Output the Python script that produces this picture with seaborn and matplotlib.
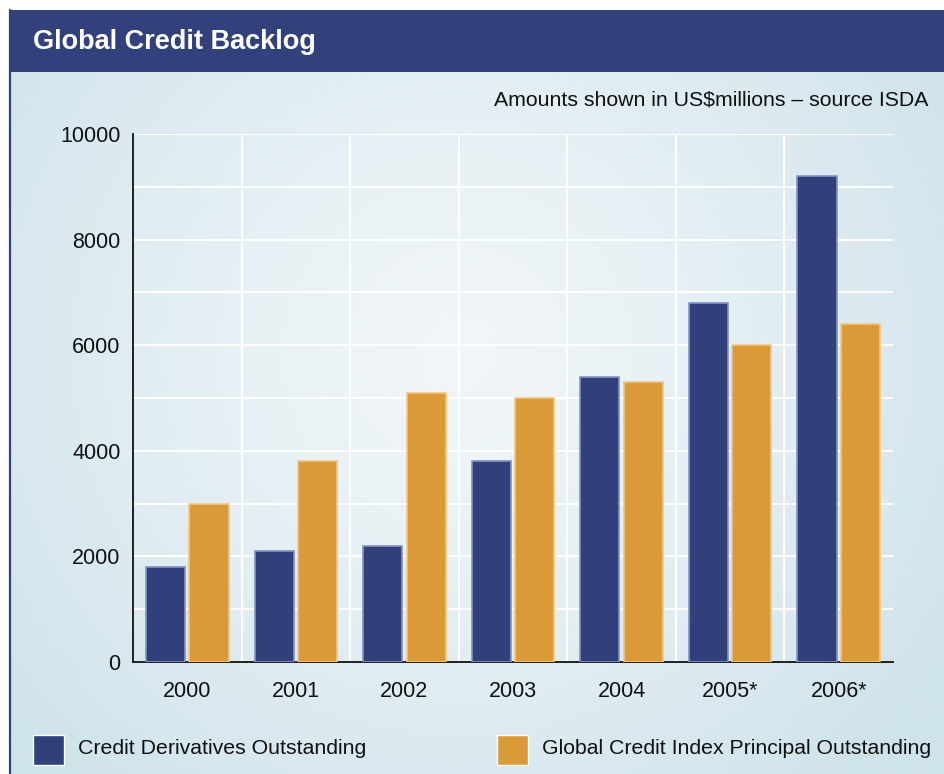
import numpy as np
import pandas as pd
import matplotlib
matplotlib.use("Agg")
import matplotlib.pyplot as plt
from matplotlib.patches import Rectangle
import seaborn as sns

years = ["2000", "2001", "2002", "2003", "2004", "2005*", "2006*"]
series_names = ["Credit Derivatives Outstanding", "Global Credit Index Principal Outstanding"]
credit_derivatives = [1800, 2100, 2200, 3800, 5400, 6800, 9200]
credit_index = [3000, 3800, 5100, 5000, 5300, 6000, 6400]
colors = ["#31407B", "#DA9A37"]
edge_colors = ["#8592C4", "#F2C685"]

df = pd.DataFrame({
    "year": years * 2,
    "value": credit_derivatives + credit_index,
    "series": [series_names[0]] * len(years) + [series_names[1]] * len(years),
})

sns.set_theme(style="white")
plt.rcParams["font.family"] = ["Liberation Sans", "DejaVu Sans"]

W, H = 944, 774
fig = plt.figure(figsize=(W / 100, H / 100), dpi=100, facecolor="white")

# background gradient panel
bg = fig.add_axes([9 / W, 0, 1 - 9 / W, (H - 10) / H])
bg.set_axis_off()
nx, ny = 400, 330
xx, yy = np.meshgrid(np.linspace(0, 1, nx), np.linspace(0, 1, ny))
r = np.sqrt(((xx - 0.48) / 0.62) ** 2 + ((yy - 0.45) / 0.75) ** 2)
t = np.clip(r, 0, 1) ** 1.3
c_center = np.array([0xF1, 0xF6, 0xF8]) / 255
c_edge = np.array([0xCF, 0xE3, 0xEB]) / 255
img = c_center[None, None, :] * (1 - t[..., None]) + c_edge[None, None, :] * t[..., None]
bg.imshow(img, aspect="auto", extent=[0, 1, 0, 1], origin="upper")
bg.set_xlim(0, 1)
bg.set_ylim(0, 1)

# left border line
fig.add_artist(plt.Line2D([9.5 / W, 9.5 / W], [0, (H - 10) / H], color="#31407B", lw=1.6,
                          transform=fig.transFigure))
# title bar
fig.add_artist(Rectangle((9 / W, (H - 72) / H), 1 - 9 / W, 62 / H, transform=fig.transFigure,
                         facecolor="#32407B", edgecolor="none"))
fig.text(33 / W, (H - 42) / H, "Global Credit Backlog", color="white", fontsize=19.5,
         fontweight="heavy", va="center", ha="left")
fig.text(928 / W, (H - 100) / H, "Amounts shown in US$millions \u2013 source ISDA",
         color="#111111", fontsize=15.3, va="center", ha="right")

# main axes
ax = fig.add_axes([133 / W, 112 / H, 760 / W, 528 / H])
ax.patch.set_alpha(0)
sns.barplot(data=df, x="year", y="value", hue="series", palette=colors, width=0.8, gap=0.1,
            ax=ax, legend=False, saturation=1, linewidth=1.2)
for i, container in enumerate(ax.containers):
    for bar in container:
        bar.set_edgecolor(edge_colors[i])
        bar.set_zorder(3)

ax.set_xlim(-0.5, 6.5)
ax.set_ylim(0, 10000)
ax.set_yticks(np.arange(0, 10001, 2000))
ax.set_yticks(np.arange(1000, 10000, 2000), minor=True)
ax.set_xticks(np.arange(0.5, 6.0, 1.0), minor=True)
ax.grid(True, which="both", color="white", lw=1.5, zorder=0)
ax.grid(False, which="major", axis="x")
ax.set_axisbelow(True)
ax.set_xlabel("")
ax.set_ylabel("")
ax.tick_params(axis="both", which="both", length=0)
ax.tick_params(axis="y", pad=9, labelsize=15.5, labelcolor="#111111")
ax.tick_params(axis="x", pad=14, labelsize=15.5, labelcolor="#111111")
for s in ["top", "right"]:
    ax.spines[s].set_visible(False)
for s in ["left", "bottom"]:
    ax.spines[s].set_color("#111111")
    ax.spines[s].set_linewidth(1.3)

# legend
legend_items = [(33, series_names[0]), (497, series_names[1])]
for (x0, name), col in zip(legend_items, colors):
    fig.add_artist(Rectangle((x0 / W, (H - 765) / H), 31 / W, 30 / H, transform=fig.transFigure,
                             facecolor=col, edgecolor="white", lw=1.0))
    fig.text((x0 + 45) / W, (H - 749) / H, name, fontsize=15.3, color="#111111",
             va="center", ha="left")

fig.savefig("out.png", dpi=100, facecolor="white")
